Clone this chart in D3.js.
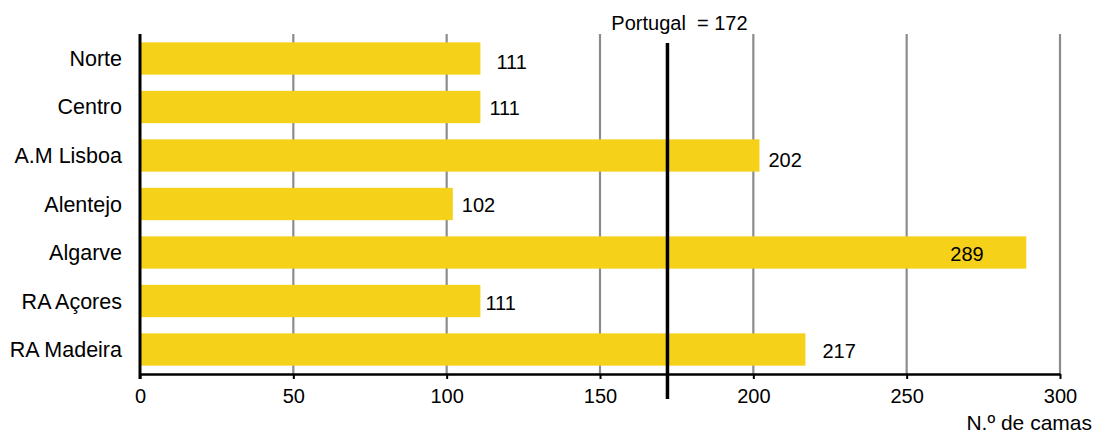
<!DOCTYPE html>
<html>
<head>
<meta charset="utf-8">
<script src="https://cdn.jsdelivr.net/npm/d3@7"></script>
<style>
  body { margin: 0; background: #fff; }
  svg text { font-family: "Liberation Sans", Arial, sans-serif; fill: #000; }
</style>
</head>
<body>
<svg id="chart" width="1094" height="433"></svg>
<script>
// data
const regions = ["Norte", "Centro", "A.M Lisboa", "Alentejo", "Algarve", "RA Açores", "RA Madeira"];
const beds = [111, 111, 202, 102, 289, 111, 217];
const portugal = 172;
const xTicks = [0, 50, 100, 150, 200, 250, 300];
const axisTitle = "N.º de camas";

// small label nudges (px) so the value labels sit like the original
const labelDx = [16, 9, 9, 9, -76, 5, 17];
const labelDy = [4, 1, 5, 1, 1, 2, 1];

const svg = d3.select('#chart');
const plotLeft = 140, plotRight = 1060, plotTop = 34, plotBottom = 374;

const x = d3.scaleLinear().domain([0, 300]).range([plotLeft, plotRight]);
const y = d3.scaleBand().domain(regions).range([plotTop, plotBottom])
  .paddingInner(0.334).paddingOuter(0.172);

// vertical grid lines
svg.append('g')
  .selectAll('line')
  .data(xTicks.slice(1))
  .enter()
  .append('line')
    .attr('x1', d => x(d)).attr('x2', d => x(d))
    .attr('y1', plotTop).attr('y2', plotBottom)
    .style('stroke', '#8c8c8c')
    .style('stroke-width', 2.2)

// bars
svg.append('g')
  .selectAll('rect')
  .data(regions)
  .enter()
  .append('rect')
    .attr('x', x(0))
    .attr('y', d => y(d))
    .attr('width', (d, i) => x(beds[i]) - x(0))
    .attr('height', y.bandwidth())
    .style('fill', '#f6d11a')

// value labels
svg.append('g')
  .selectAll('text')
  .data(regions)
  .enter()
  .append('text')
    .attr('x', (d, i) => x(beds[i]) + labelDx[i])
    .attr('y', (d, i) => y(d) + y.bandwidth() / 2 + 7 + labelDy[i])
    .style('font-size', '20px')
    .text((d, i) => beds[i])

// bottom axis
const xAxis = d3.axisBottom(x).tickValues(xTicks).tickSize(5).tickPadding(10).tickSizeOuter(0);
const gx = svg.append('g').attr('transform', `translate(0,${plotBottom})`).call(xAxis);
gx.select('.domain').style('stroke', '#000').style('stroke-width', 2.4);
gx.selectAll('.tick line').style('stroke', '#000').style('stroke-width', 2);
gx.selectAll('.tick text')
  .style('font-size', '20px')
  .style('font-family', '"Liberation Sans", Arial, sans-serif')
  .attr('fill', '#000');

// left axis line + category labels
svg.append('line')
  .attr('x1', plotLeft).attr('x2', plotLeft)
  .attr('y1', plotTop).attr('y2', plotBottom + 5)
  .style('stroke', '#000').style('stroke-width', 3)

svg.append('g')
  .selectAll('text')
  .data(regions)
  .enter()
  .append('text')
    .attr('x', 122)
    .attr('y', d => y(d) + y.bandwidth() / 2 + 7.5)
    .attr('text-anchor', 'end')
    .style('font-size', '21.5px')
    .text(d => d)

// Portugal reference line
svg.append('line')
  .attr('x1', x(portugal)).attr('x2', x(portugal))
  .attr('y1', 43).attr('y2', 399)
  .style('stroke', '#000').style('stroke-width', 3.5)

svg.append('text')
  .attr('x', x(portugal) + 12)
  .attr('y', 30)
  .attr('text-anchor', 'middle')
  .style('font-size', '20px')
  .style('white-space', 'pre')
  .text('Portugal  = ' + portugal)

svg.append('text')
  .attr('x', 1092)
  .attr('y', 430)
  .attr('text-anchor', 'end')
  .style('font-size', '21px')
  .text(axisTitle)
</script>
</body>
</html>
